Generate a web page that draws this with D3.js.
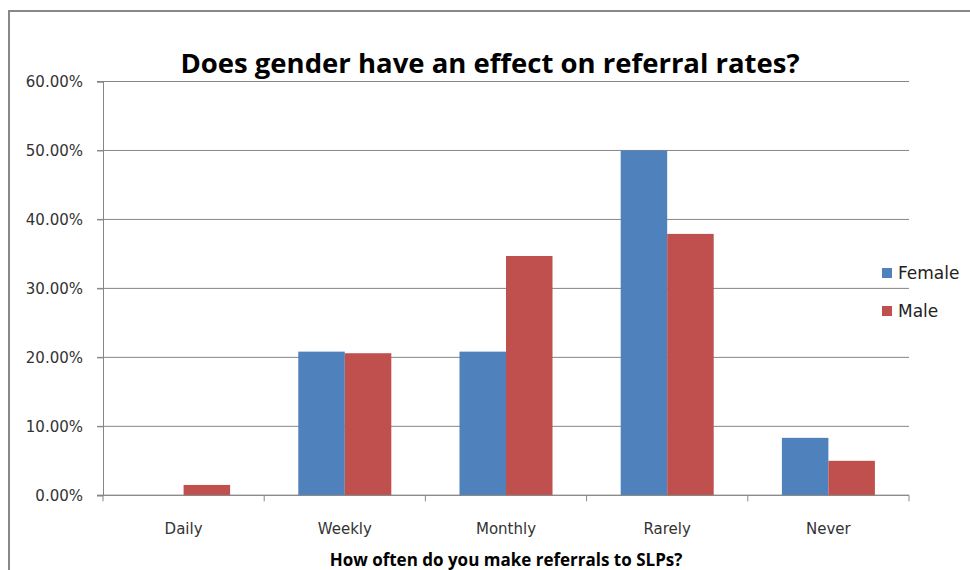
<!DOCTYPE html>
<html>
<head>
<meta charset="utf-8">
<script src="https://cdn.jsdelivr.net/npm/d3@7"></script>
<style>
  body { margin: 0; background: #fff; }
  svg { display: block; }
</style>
</head>
<body>
<svg id="chart" width="970" height="570"></svg>
<script>
// data
const categories = ["Daily", "Weekly", "Monthly", "Rarely", "Never"];
const seriesNames = ["Female", "Male"];
const femaleValues = [0, 0.2083, 0.2083, 0.50, 0.0833];
const maleValues = [0.015, 0.206, 0.347, 0.379, 0.050];
const yTicks = [0, 0.1, 0.2, 0.3, 0.4, 0.5, 0.6];

const colors = {Female: "#4F81BD", Male: "#C0504D"};

class GenderChart {
    constructor(svg_id) {
        this.svg = d3.select("#" + svg_id);
        this.render();
    }

    render() {
        let svg = this.svg;
        let left = 103, right = 909, top = 81.5, bottom = 495.3;

        // outer chart border
        svg.append("rect")
            .attr("x", 9).attr("y", 11)
            .attr("width", 975).attr("height", 580)
            .attr("fill", "none")
            .attr("stroke", "#888")
            .attr("stroke-width", 2);

        let rows = categories.map(function(c, i) {
            return {cat: c, Female: femaleValues[i], Male: maleValues[i]};
        });

        let gap = 0.423;
        let x0 = d3.scaleBand()
            .domain(categories)
            .range([left, right])
            .paddingInner(gap)
            .paddingOuter(gap / 2);
        let x1 = d3.scaleBand()
            .domain(seriesNames)
            .range([0, x0.bandwidth()]);
        let y = d3.scaleLinear()
            .domain([0, 0.6])
            .range([bottom, top]);

        // gridlines
        svg.append("g")
            .selectAll("line")
            .data(yTicks)
            .enter()
            .append("line")
            .attr("x1", left - 6).attr("x2", right)
            .attr("y1", d => y(d)).attr("y2", d => y(d))
            .attr("stroke", "#868686")
            .attr("stroke-width", 1);

        // y axis
        let yAxis = svg.append("g")
            .attr("transform", "translate(" + left + ",0)")
            .call(d3.axisLeft(y).tickValues(yTicks).tickFormat(d3.format(".2%")).tickSize(6).tickPadding(14));
        yAxis.select(".domain").attr("stroke", "#868686");
        yAxis.selectAll(".tick line").attr("stroke", "#868686");
        yAxis.selectAll("text")
            .attr("font-family", "DejaVu Sans")
            .attr("font-size", "15px")
            .attr("fill", "#333");

        // bars
        svg.append("g")
            .selectAll("g")
            .data(rows)
            .enter()
            .append("g")
            .attr("transform", d => "translate(" + x0(d.cat) + ",0)")
            .selectAll("rect")
            .data(d => seriesNames.map(k => ({key: k, value: d[k]})))
            .enter()
            .append("rect")
            .attr("x", d => x1(d.key))
            .attr("y", d => y(d.value))
            .attr("width", x1.bandwidth())
            .attr("height", d => bottom - y(d.value))
            .attr("fill", d => colors[d.key]);

        // x axis line and ticks between categories
        let step = x0.step();
        svg.append("line")
            .attr("x1", left - 6).attr("x2", right)
            .attr("y1", bottom).attr("y2", bottom)
            .attr("stroke", "#868686");
        svg.append("g")
            .selectAll("line")
            .data(d3.range(categories.length + 1))
            .enter()
            .append("line")
            .attr("x1", i => left + i * step).attr("x2", i => left + i * step)
            .attr("y1", bottom).attr("y2", bottom + 6)
            .attr("stroke", "#868686");

        svg.append("g")
            .selectAll("text")
            .data(categories)
            .enter()
            .append("text")
            .text(d => d)
            .attr("x", d => x0(d) + x0.bandwidth() / 2)
            .attr("y", 534)
            .attr("text-anchor", "middle")
            .attr("font-family", "DejaVu Sans")
            .attr("font-size", "15px")
            .attr("fill", "#333");

        // titles
        svg.append("text")
            .text("Does gender have an effect on referral rates?")
            .attr("x", 490).attr("y", 73)
            .attr("text-anchor", "middle")
            .attr("font-family", "Open Sans")
            .attr("font-weight", "bold")
            .attr("font-size", "27.5px")
            .attr("fill", "#000");

        svg.append("text")
            .text("How often do you make referrals to SLPs?")
            .attr("x", (left + right) / 2).attr("y", 566)
            .attr("text-anchor", "middle")
            .attr("font-family", "Open Sans")
            .attr("font-weight", "bold")
            .attr("font-size", "17px")
            .attr("fill", "#000");

        // legend
        let legend = svg.append("g")
            .selectAll("g")
            .data(seriesNames)
            .enter()
            .append("g")
            .attr("transform", (d, i) => "translate(882," + (268 + i * 38) + ")");
        legend.append("rect")
            .attr("width", 10).attr("height", 10)
            .attr("fill", d => colors[d]);
        legend.append("text")
            .text(d => d)
            .attr("x", 16).attr("y", 11)
            .attr("font-family", "DejaVu Sans")
            .attr("font-size", "17px")
            .attr("fill", "#222");
    }
}

new GenderChart("chart");
</script>
</body>
</html>
